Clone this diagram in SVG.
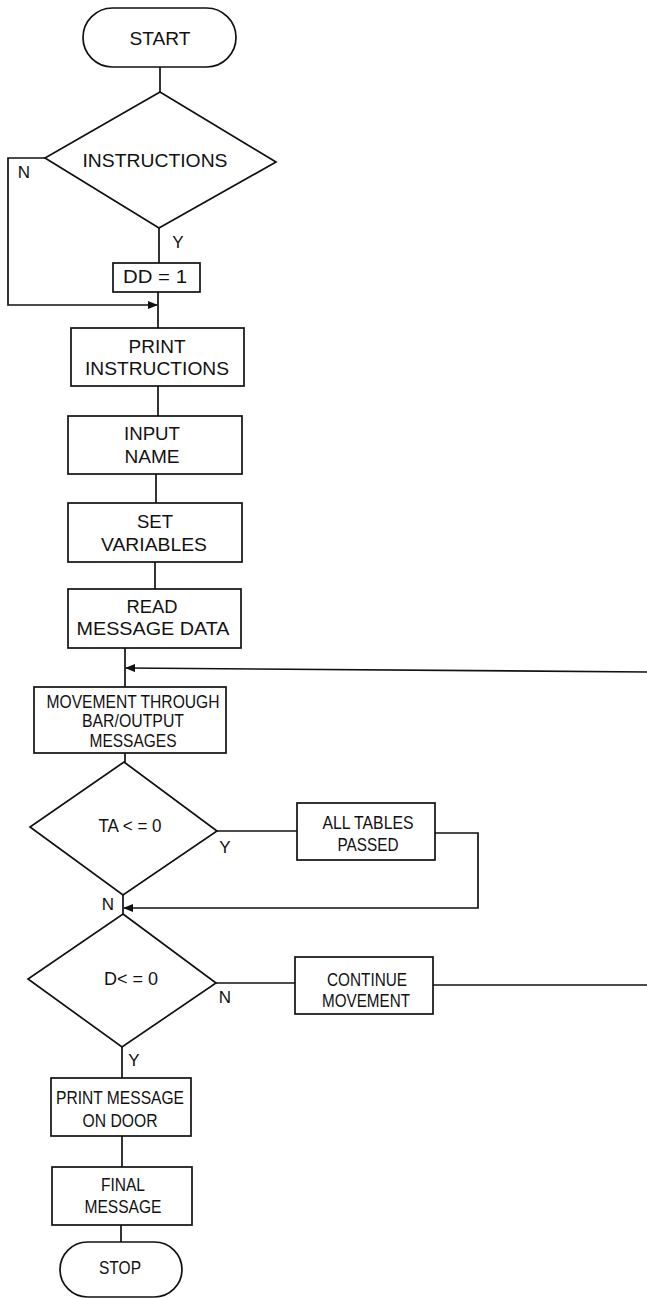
<svg xmlns="http://www.w3.org/2000/svg" width="647" height="1298" viewBox="0 0 647 1298">
<style>
.s{fill:none;stroke:#111;stroke-width:1.7}
.b{fill:#fff;stroke:#111;stroke-width:1.7}
text{font-family:"Liberation Sans",Arial,sans-serif;font-size:18px;fill:#111;text-anchor:middle}
.l{font-size:17px}
</style>
<defs>
<marker id="ah" markerWidth="10" markerHeight="8" refX="9" refY="4" orient="auto" markerUnits="userSpaceOnUse">
<path d="M0,0 L10,4 L0,8 Z" fill="#111"/>
</marker>
</defs>
<rect width="647" height="1298" fill="#fff"/>
<g id="connectors">
<path class="s" d="M160,67 V92"/>
<path class="s" d="M159,228 V263"/>
<path class="s" d="M158,292 V328"/>
<path class="s" d="M45,158 H8 V305 H157" marker-end="url(#ah)"/>
<path class="s" d="M158,386 V416"/>
<path class="s" d="M156,474 V503"/>
<path class="s" d="M155,562 V589"/>
<path class="s" d="M125,648 V687"/>
<path class="s" d="M647,672 L126,668" marker-end="url(#ah)"/>
<path class="s" d="M125,753 V762"/>
<path class="s" d="M217,831 H297"/>
<path class="s" d="M435,833 H478 V908 H124" marker-end="url(#ah)"/>
<path class="s" d="M123,895 V914"/>
<path class="s" d="M216,983 H295"/>
<path class="s" d="M433,985 H647"/>
<path class="s" d="M122,1047 V1078"/>
<path class="s" d="M122,1136 V1167"/>
<path class="s" d="M121,1225 V1242"/>
<text x="24" y="178" class="l">N</text>
<text x="178" y="248" class="l">Y</text>
<text x="225" y="853" class="l">Y</text>
<text x="108" y="910" class="l">N</text>
<text x="225" y="1003" class="l">N</text>
<text x="134" y="1066" class="l">Y</text>
</g>
<g id="start">
<rect class="b" x="83" y="8" width="153" height="59" rx="29.5"/>
<text x="160" y="45" textLength="61" lengthAdjust="spacingAndGlyphs">START</text>
</g>
<g id="instructions">
<polygon class="b" points="160,92 276,162 159,228 45,158"/>
<text x="155" y="167" textLength="145" lengthAdjust="spacingAndGlyphs">INSTRUCTIONS</text>
</g>
<g id="dd1">
<rect class="b" x="113" y="263" width="87" height="29"/>
<text x="155" y="283" textLength="64" lengthAdjust="spacingAndGlyphs">DD = 1</text>
</g>
<g id="print-instructions">
<rect class="b" x="71" y="328" width="173" height="58"/>
<text x="157" y="353" textLength="57" lengthAdjust="spacingAndGlyphs">PRINT</text>
<text x="157" y="375" textLength="144" lengthAdjust="spacingAndGlyphs">INSTRUCTIONS</text>
</g>
<g id="input-name">
<rect class="b" x="68" y="416" width="174" height="58"/>
<text x="152" y="440" textLength="56" lengthAdjust="spacingAndGlyphs">INPUT</text>
<text x="152" y="463" textLength="55" lengthAdjust="spacingAndGlyphs">NAME</text>
</g>
<g id="set-variables">
<rect class="b" x="68" y="503" width="174" height="59"/>
<text x="155" y="528" textLength="36" lengthAdjust="spacingAndGlyphs">SET</text>
<text x="154" y="551" textLength="106" lengthAdjust="spacingAndGlyphs">VARIABLES</text>
</g>
<g id="read-message-data">
<rect class="b" x="68" y="589" width="173" height="59"/>
<text x="152" y="613" textLength="51" lengthAdjust="spacingAndGlyphs">READ</text>
<text x="153" y="635" textLength="153" lengthAdjust="spacingAndGlyphs">MESSAGE DATA</text>
</g>
<g id="movement">
<rect class="b" x="34" y="687" width="192" height="66"/>
<text x="133" y="708" textLength="173" lengthAdjust="spacingAndGlyphs">MOVEMENT THROUGH</text>
<text x="133" y="727" textLength="102" lengthAdjust="spacingAndGlyphs">BAR/OUTPUT</text>
<text x="133" y="747" textLength="87" lengthAdjust="spacingAndGlyphs">MESSAGES</text>
</g>
<g id="ta-decision">
<polygon class="b" points="124,762 217,831 123,895 30,827"/>
<text x="130" y="832" textLength="63" lengthAdjust="spacingAndGlyphs">TA &lt; = 0</text>
</g>
<g id="all-tables-passed">
<rect class="b" x="297" y="803" width="138" height="57"/>
<text x="368" y="829" textLength="91" lengthAdjust="spacingAndGlyphs">ALL TABLES</text>
<text x="368" y="851" textLength="61" lengthAdjust="spacingAndGlyphs">PASSED</text>
</g>
<g id="d-decision">
<polygon class="b" points="123,914 216,983 122,1047 28,979"/>
<text x="131" y="985" textLength="54" lengthAdjust="spacingAndGlyphs">D&lt; = 0</text>
</g>
<g id="continue-movement">
<rect class="b" x="295" y="957" width="138" height="57"/>
<text x="367" y="986" textLength="80" lengthAdjust="spacingAndGlyphs">CONTINUE</text>
<text x="366" y="1007" textLength="88" lengthAdjust="spacingAndGlyphs">MOVEMENT</text>
</g>
<g id="print-message">
<rect class="b" x="51" y="1078" width="140" height="58"/>
<text x="120" y="1104" textLength="128" lengthAdjust="spacingAndGlyphs">PRINT MESSAGE</text>
<text x="120" y="1127" textLength="75" lengthAdjust="spacingAndGlyphs">ON DOOR</text>
</g>
<g id="final-message">
<rect class="b" x="52" y="1167" width="140" height="58"/>
<text x="123" y="1191" textLength="44" lengthAdjust="spacingAndGlyphs">FINAL</text>
<text x="123" y="1213" textLength="77" lengthAdjust="spacingAndGlyphs">MESSAGE</text>
</g>
<g id="stop">
<rect class="b" x="60" y="1242" width="122" height="55" rx="27.5"/>
<text x="120" y="1274" textLength="42" lengthAdjust="spacingAndGlyphs">STOP</text>
</g>
</svg>
